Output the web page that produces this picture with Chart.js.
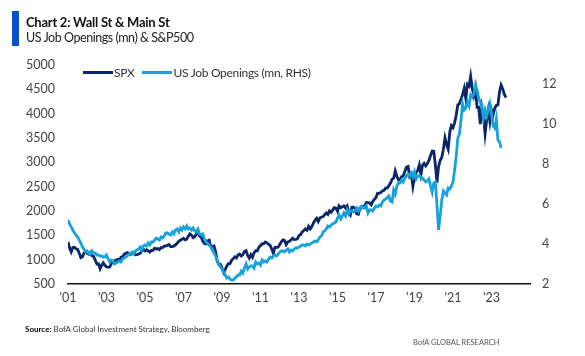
<!DOCTYPE html>
<html>
<head>
<meta charset="utf-8">
<script src="https://cdn.jsdelivr.net/npm/chart.js@4/dist/chart.umd.min.js"></script>
<style>
  html, body { margin: 0; padding: 0; background: #fff; }
  body { width: 585px; height: 356px; position: relative; overflow: hidden; font-family: Lato, "Liberation Sans", sans-serif; }
  #wrap { position: absolute; left: 0; top: 0; width: 585px; height: 356px; }
  .bar { position: absolute; left: 12px; top: 11px; width: 7px; height: 35px; background: #0a50c8; }
  .title { position: absolute; left: 26px; top: 14px; font-size: 13px; font-weight: bold; color: #111; white-space: nowrap; letter-spacing: -0.25px; }
  .subtitle { position: absolute; left: 26px; top: 30px; font-size: 12.5px; color: #222; white-space: nowrap; letter-spacing: -0.45px; }
  .legend { position: absolute; top: 65px; left: 83px; font-size: 12px; color: #333; white-space: nowrap; display: flex; align-items: center; letter-spacing: -0.3px; }
  .legend .sw { display: inline-block; width: 30px; height: 3px; margin-right: 1px; }
  .legend .item { display: flex; align-items: center; margin-right: 8px; }
  .source { position: absolute; left: 25px; top: 324px; font-size: 8px; color: #333; white-space: nowrap; }
  .source b { color: #000; }
  .brand { position: absolute; left: 413px; top: 338px; font-size: 7.5px; color: #555; white-space: nowrap; }
</style>
</head>
<body>
<div id="wrap"><canvas id="c" width="585" height="356"></canvas></div>
<div class="bar"></div>
<div class="title">Chart 2: Wall St &amp; Main St</div>
<div class="subtitle">US Job Openings (mn) &amp; S&amp;P500</div>
<div class="legend">
  <span class="item"><span class="sw" style="background:#0b2569"></span>SPX</span>
  <span class="item"><span class="sw" style="background:#17a2dc"></span>US Job Openings (mn, RHS)</span>
</div>
<div class="source"><b>Source:</b> BofA Global Investment Strategy, Bloomberg</div>
<div class="brand">BofA GLOBAL RESEARCH</div>
<script>
// Monthly values, Jan 2001 onwards
const startYear = 2001;
const spx = [
  1366,1240,1160,1249,1256,1224,1211,1134,1041,1060,1139,1148,
  1130,1107,1147,1077,1067,990,912,916,815,886,936,880,
  856,841,848,917,964,975,990,1008,996,1051,1058,1112,
  1131,1145,1126,1107,1121,1141,1102,1104,1115,1130,1174,1212,
  1181,1204,1181,1157,1192,1191,1234,1220,1229,1207,1249,1248,
  1280,1281,1295,1311,1270,1270,1277,1304,1336,1378,1401,1418,
  1438,1407,1421,1482,1531,1503,1455,1474,1527,1549,1481,1468,
  1379,1331,1323,1386,1400,1280,1267,1283,1166,969,896,903,
  826,735,798,873,919,919,987,1021,1057,1036,1096,1115,
  1074,1104,1169,1187,1089,1031,1102,1049,1141,1183,1181,1258,
  1286,1327,1326,1364,1345,1321,1292,1219,1131,1253,1247,1258,
  1312,1366,1408,1398,1310,1362,1379,1407,1441,1412,1416,1426,
  1498,1515,1569,1598,1631,1606,1686,1633,1682,1757,1806,1848,
  1783,1859,1872,1884,1924,1960,1931,2003,1972,2018,2068,2059,
  1995,2105,2068,2086,2107,2063,2104,1972,1920,2079,2080,2044,
  1940,1932,2060,2065,2097,2099,2174,2171,2168,2126,2199,2239,
  2279,2364,2363,2384,2412,2423,2470,2472,2519,2575,2648,2674,
  2824,2714,2641,2648,2705,2718,2816,2902,2914,2712,2760,2507,
  2704,2784,2834,2946,2752,2942,2980,2926,2977,3038,3141,3231,
  3226,2954,2585,2912,3044,3100,3271,3500,3363,3270,3622,3756,
  3714,3811,3973,4181,4204,4298,4395,4523,4308,4605,4567,4766,
  4516,4374,4530,4132,4132,3785,4130,3955,3586,3872,4080,3840,
  4077,3970,4109,4169,4180,4450,4589,4508,4400,4330
];
const jobOpenings = [
  5.20,5.00,4.85,4.70,4.55,4.45,4.35,4.20,4.05,3.85,3.75,3.60,
  3.65,3.50,3.50,3.65,3.55,3.55,3.45,3.45,3.40,3.40,3.35,3.35,
  3.45,3.25,3.10,3.20,3.15,3.00,3.05,3.10,3.15,3.10,3.25,3.30,
  3.35,3.40,3.50,3.50,3.60,3.50,3.65,3.70,3.75,3.85,3.70,3.90,
  3.95,3.90,4.05,3.95,4.10,4.10,4.20,4.30,4.25,4.20,4.35,4.30,
  4.40,4.55,4.55,4.50,4.45,4.60,4.50,4.70,4.75,4.60,4.80,4.70,
  4.85,4.75,4.90,4.75,4.80,4.70,4.80,4.65,4.60,4.75,4.50,4.45,
  4.50,4.25,4.10,4.05,3.95,3.85,3.70,3.55,3.40,3.20,3.00,2.85,
  2.75,2.60,2.45,2.30,2.35,2.25,2.20,2.20,2.30,2.35,2.45,2.45,
  2.65,2.55,2.80,3.00,2.75,2.85,2.90,2.90,2.80,3.10,3.00,3.05,
  2.95,3.20,3.10,3.15,3.10,3.25,3.35,3.30,3.40,3.45,3.40,3.50,
  3.60,3.65,3.65,3.60,3.70,3.75,3.60,3.70,3.65,3.75,3.80,3.80,
  3.85,3.90,3.95,3.95,3.90,4.00,3.95,4.00,4.05,4.10,4.15,4.10,
  4.20,4.35,4.40,4.60,4.65,4.75,4.90,4.85,4.95,5.00,5.05,5.10,
  5.30,5.45,5.25,5.40,5.55,5.40,5.70,5.50,5.65,5.65,5.60,5.65,
  5.80,5.65,5.80,5.90,5.80,5.80,5.90,5.55,5.70,5.70,5.65,5.80,
  5.90,5.85,5.95,5.90,6.10,6.20,6.25,6.30,6.40,6.15,6.10,6.70,
  6.50,6.90,7.05,7.05,7.20,7.10,7.30,7.40,7.50,7.40,7.55,7.35,
  7.60,7.25,7.40,7.40,7.35,7.30,7.20,7.10,7.15,7.25,6.90,6.60,
  7.05,7.10,5.95,4.70,5.40,6.20,6.65,6.55,6.45,6.80,6.75,6.90,
  7.10,7.70,8.40,9.30,9.50,10.20,11.00,10.70,10.80,11.10,10.90,11.45,
  11.35,11.50,11.95,11.70,11.30,11.10,10.85,10.30,10.70,10.40,10.70,11.00,
  10.50,9.90,9.80,10.25,9.20,9.10,8.80
];
const xTickYears = [2001,2003,2005,2007,2009,2011,2013,2015,2017,2019,2021,2023];
const leftTicks = [500,1000,1500,2000,2500,3000,3500,4000,4500,5000];
const rightTicks = [2,4,6,8,10,12];

const toPoints = arr => arr.map((v, i) => ({ x: startYear + i / 12, y: v }));

const tickFont = { family: 'Lato, "Liberation Sans", sans-serif', size: 12.5 };
const tickColor = '#444';

new Chart(document.getElementById('c'), {
  type: 'line',
  data: {
    datasets: [
      { label: 'US Job Openings (mn, RHS)', data: toPoints(jobOpenings), yAxisID: 'y2',
        borderColor: '#17a2dc', borderWidth: 2.8, pointRadius: 0, tension: 0, order: 0 },
      { label: 'SPX', data: toPoints(spx), yAxisID: 'y',
        borderColor: '#0b2569', borderWidth: 2.8, pointRadius: 0, tension: 0, order: 1 }
    ]
  },
  options: {
    responsive: false,
    animation: false,
    layout: { padding: { top: 65, bottom: 0, left: 0, right: 0 } },
    plugins: { legend: { display: false }, tooltip: { enabled: false } },
    scales: {
      x: {
        type: 'linear', min: 2001, max: 2025,
        afterBuildTicks: ax => { ax.ticks = xTickYears.map(v => ({ value: v })); },
        afterFit: ax => { ax.height = 72; },
        ticks: { callback: v => "'" + String(v).slice(2), font: tickFont, color: tickColor, padding: 6, maxRotation: 0, autoSkip: false },
        grid: { display: false, drawTicks: false },
        border: { display: true, color: '#111', width: 1.6 }
      },
      y: {
        position: 'left', min: 500, max: 5000,
        afterBuildTicks: ax => { ax.ticks = leftTicks.map(v => ({ value: v })); },
        afterFit: ax => { ax.width = 68; },
        ticks: { callback: v => String(v), font: tickFont, color: tickColor, padding: 13, autoSkip: false },
        grid: { display: false, drawTicks: false },
        border: { display: false }
      },
      y2: {
        position: 'right', min: 2, max: 12.95,
        afterBuildTicks: ax => { ax.ticks = rightTicks.map(v => ({ value: v })); },
        afterFit: ax => { ax.width = 55; },
        ticks: { callback: v => String(v), font: tickFont, color: tickColor, padding: 12, autoSkip: false },
        grid: { display: false, drawTicks: false },
        border: { display: false }
      }
    }
  }
});
</script>
</body>
</html>
